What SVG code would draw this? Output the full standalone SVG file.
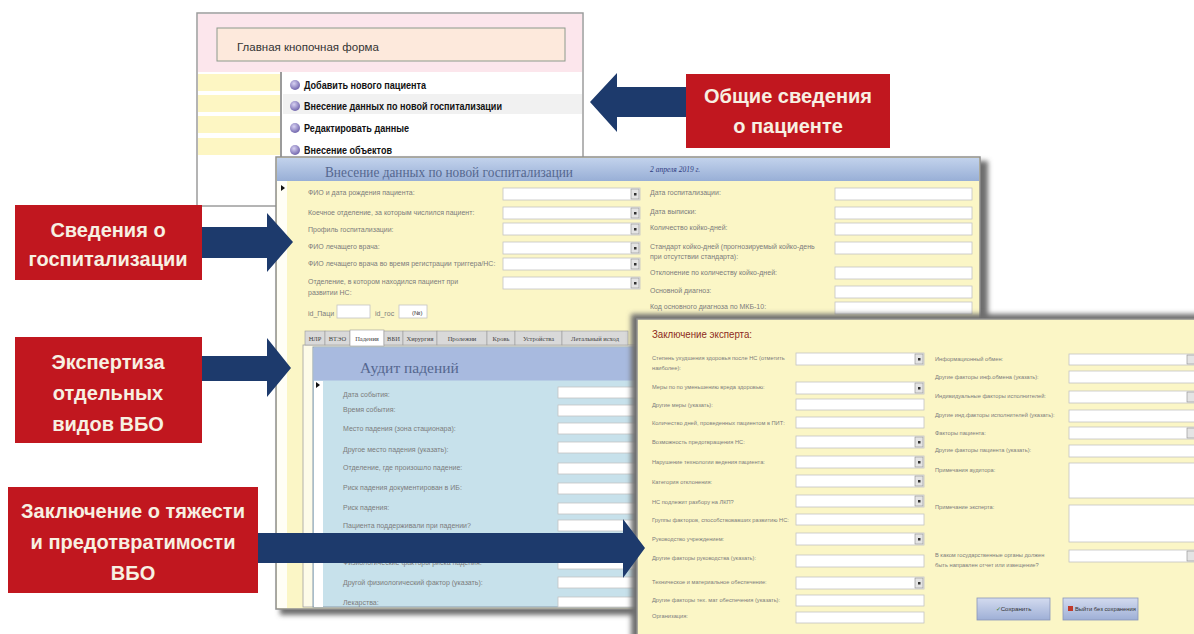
<svg xmlns="http://www.w3.org/2000/svg" width="1194" height="634" viewBox="0 0 1194 634">
<defs>
<filter id="blur" x="-5%" y="-5%" width="110%" height="110%"><feGaussianBlur stdDeviation="2.5"/></filter>
<linearGradient id="hdr" x1="0" y1="0" x2="0" y2="1"><stop offset="0" stop-color="#c2d2ec"/><stop offset="1" stop-color="#98afd6"/></linearGradient>
<linearGradient id="btn" x1="0" y1="0" x2="0" y2="1"><stop offset="0" stop-color="#d3dbef"/><stop offset="1" stop-color="#9eafd6"/></linearGradient>
<radialGradient id="bullet" cx="0.4" cy="0.35" r="0.7"><stop offset="0" stop-color="#d8d2f2"/><stop offset="1" stop-color="#6a5ea8"/></radialGradient>
<style>
.lbl{font-family:"Liberation Sans",Arial,sans-serif;font-size:7px;fill:#7c7c7c}
.lbs{font-family:"Liberation Sans",Arial,sans-serif;font-size:5.7px;fill:#7c7c7c}
.fld{fill:#ffffff;stroke:#c4c4c4;stroke-width:0.8}
.ddb{fill:#e4e4e4;stroke:#8c8c8c;stroke-width:0.6}
.ddk{fill:#333}
.menu{font-family:"Liberation Sans",Arial,sans-serif;font-size:10px;font-weight:bold;fill:#111}
.tab{fill:#d9d9d9;stroke:#9a9a9a;stroke-width:0.6}
.tabt{font-family:"Liberation Serif","Times New Roman",serif;font-size:6.5px;fill:#444;text-anchor:middle}
.call{fill:#c1171f}
.ct{font-family:"Liberation Sans",Arial,sans-serif;font-size:20px;font-weight:bold;fill:#f7f0e2;text-anchor:middle}
.arr{fill:#1d3a6c}
.win{fill:#fbf6c6;stroke:#8f8f8f;stroke-width:1.5}
.shadow{fill:#6e6e6e;filter:url(#blur)}
</style>
</defs>
<rect width="1194" height="634" fill="#ffffff"/>

<g id="main-menu-form">
<rect x="197" y="13" width="386" height="193" fill="#ffffff" stroke="#9c9c9c" stroke-width="1.5"/>
<rect x="198" y="14" width="384" height="58" fill="#fce6ec"/>
<rect x="217" y="28" width="348" height="33" fill="#fde9dc" stroke="#8c9a8c" stroke-width="1"/>
<text x="237" y="51" font-family="Liberation Sans, Arial, sans-serif" font-size="11.5" fill="#333">Главная кнопочная форма</text>
<rect x="283" y="94" width="299" height="20" fill="#f1f1f1"/>
<rect x="198" y="74" width="82" height="17" fill="#fdf6c3"/>
<rect x="198" y="95" width="82" height="17" fill="#fdf6c3"/>
<rect x="198" y="116" width="82" height="17" fill="#fdf6c3"/>
<rect x="198" y="138" width="82" height="17" fill="#fdf6c3"/>
<line x1="281" y1="72" x2="281" y2="158" stroke="#7a7a7a" stroke-width="1.5"/>
<circle cx="295" cy="85" r="5" fill="url(#bullet)"/>
<circle cx="295" cy="106" r="5" fill="url(#bullet)"/>
<circle cx="295" cy="128" r="5" fill="url(#bullet)"/>
<circle cx="295" cy="150" r="5" fill="url(#bullet)"/>
<text class="menu" x="304" y="89" textLength="122" lengthAdjust="spacingAndGlyphs">Добавить нового пациента</text>
<text class="menu" x="304" y="110" textLength="198" lengthAdjust="spacingAndGlyphs">Внесение данных по новой госпитализации</text>
<text class="menu" x="304" y="132" textLength="105" lengthAdjust="spacingAndGlyphs">Редактировать данные</text>
<text class="menu" x="304" y="154" textLength="88" lengthAdjust="spacingAndGlyphs">Внесение объектов</text>
</g>

<g id="hospitalization-form">
<rect class="shadow" x="280" y="161" width="708" height="454"/>
<rect class="win" x="276" y="157" width="704" height="452"/>
<rect x="277" y="158" width="702" height="23" fill="url(#hdr)"/>
<text x="325" y="177" font-family="Liberation Serif, Times New Roman, serif" font-size="15" fill="#55678f" textLength="248" lengthAdjust="spacingAndGlyphs">Внесение данных по новой госпитализации</text>
<text x="650" y="172" font-family="Liberation Serif, Times New Roman, serif" font-size="7.5" font-style="italic" fill="#2e3b80">2 апреля 2019 г.</text>
<rect x="277" y="181" width="10" height="427" fill="#fffef6"/>
<path d="M281 185 L285 188 L281 191 Z" fill="#111"/>
<text class="lbl" x="308" y="195">ФИО и дата рождения пациента:</text>
<text class="lbl" x="308" y="215">Коечное отделение, за которым числился пациент:</text>
<text class="lbl" x="308" y="232">Профиль госпитализации:</text>
<text class="lbl" x="308" y="249">ФИО лечащего врача:</text>
<text class="lbl" x="308" y="266">ФИО лечащего врача во время регистрации триггера/НС:</text>
<text class="lbl" x="308" y="284">Отделение, в котором находился пациент при</text>
<text class="lbl" x="308" y="295">развитии НС:</text>
<rect class="fld" x="503" y="188" width="137" height="12"/><rect class="ddb" x="631" y="189" width="8" height="10"/><rect class="ddk" x="634" y="193" width="2.5" height="2.5"/>
<rect class="fld" x="503" y="207" width="137" height="12"/><rect class="ddb" x="631" y="208" width="8" height="10"/><rect class="ddk" x="634" y="212" width="2.5" height="2.5"/>
<rect class="fld" x="503" y="223" width="137" height="12"/><rect class="ddb" x="631" y="224" width="8" height="10"/><rect class="ddk" x="634" y="228" width="2.5" height="2.5"/>
<rect class="fld" x="503" y="242" width="137" height="12"/><rect class="ddb" x="631" y="243" width="8" height="10"/><rect class="ddk" x="634" y="247" width="2.5" height="2.5"/>
<rect class="fld" x="503" y="258" width="137" height="12"/><rect class="ddb" x="631" y="259" width="8" height="10"/><rect class="ddk" x="634" y="263" width="2.5" height="2.5"/>
<rect class="fld" x="503" y="277" width="137" height="12"/><rect class="ddb" x="631" y="278" width="8" height="10"/><rect class="ddk" x="634" y="282" width="2.5" height="2.5"/>
<text class="lbl" x="308" y="316">id_Паци</text>
<rect class="fld" x="337" y="305" width="33" height="13"/>
<text class="lbl" x="375" y="316">id_гос</text>
<rect class="fld" x="399" y="305" width="28" height="13"/>
<text x="412" y="315" font-family="Liberation Sans, Arial, sans-serif" font-size="6" fill="#333">(№)</text>
<text class="lbl" x="650" y="195">Дата госпитализации:</text>
<text class="lbl" x="650" y="214">Дата выписки:</text>
<text class="lbl" x="650" y="230">Количество койко-дней:</text>
<text class="lbl" x="650" y="249">Стандарт койко-дней (прогнозируемый койко-день</text>
<text class="lbl" x="650" y="259">при отсутствии стандарта):</text>
<text class="lbl" x="650" y="275">Отклонение по количеству койко-дней:</text>
<text class="lbl" x="650" y="293">Основной диагноз:</text>
<text class="lbl" x="650" y="309">Код основного диагноза по МКБ-10:</text>
<rect class="fld" x="835" y="188" width="137" height="12"/>
<rect class="fld" x="835" y="207" width="137" height="12"/>
<rect class="fld" x="835" y="223" width="137" height="12"/>
<rect class="fld" x="835" y="242" width="137" height="12"/>
<rect class="fld" x="835" y="267" width="137" height="12"/>
<rect class="fld" x="835" y="286" width="137" height="12"/>
<rect class="fld" x="835" y="302" width="137" height="12"/>
<rect x="303" y="345" width="340" height="262" fill="#fdfbe8" stroke="#a0a0a0" stroke-width="0.8"/>
<rect class="tab" x="305" y="331" width="20" height="14"/><text class="tabt" x="315" y="341">НЛР</text>
<rect class="tab" x="325" y="331" width="25" height="14"/><text class="tabt" x="337.5" y="341">ВТЭО</text>
<rect x="350" y="330" width="34" height="16" fill="#ffffff" stroke="#9a9a9a" stroke-width="0.6"/><text class="tabt" x="367" y="341">Падения</text>
<rect class="tab" x="384" y="331" width="19" height="14"/><text class="tabt" x="393.5" y="341">ВБИ</text>
<rect class="tab" x="403" y="331" width="34" height="14"/><text class="tabt" x="420" y="341">Хирургия</text>
<rect class="tab" x="437" y="331" width="50" height="14"/><text class="tabt" x="462" y="341">Пролежни</text>
<rect class="tab" x="487" y="331" width="28" height="14"/><text class="tabt" x="501" y="341">Кровь</text>
<rect class="tab" x="515" y="331" width="47" height="14"/><text class="tabt" x="538.5" y="341">Устройства</text>
<rect class="tab" x="562" y="331" width="66" height="14"/><text class="tabt" x="595" y="341">Летальный исход</text>
<rect x="313" y="347" width="330" height="260" fill="#c7e1eb" stroke="#8a9aaa" stroke-width="1"/>
<rect x="313.5" y="347.5" width="329" height="33" fill="#a8badf"/>
<text x="360" y="373" font-family="Liberation Serif, Times New Roman, serif" font-size="15.5" fill="#55678f">Аудит падений</text>
<rect x="314" y="381" width="9" height="226" fill="#ffffff"/>
<path d="M316 382 L320 385 L316 388 Z" fill="#111"/>
<text class="lbl" x="343" y="397">Дата события:</text>
<text class="lbl" x="343" y="412">Время события:</text>
<text class="lbl" x="343" y="431">Место падения (зона стационара):</text>
<text class="lbl" x="343" y="452">Другое место падения (указать):</text>
<text class="lbl" x="343" y="470">Отделение, где произошло падение:</text>
<text class="lbl" x="343" y="490">Риск падения документирован в ИБ:</text>
<text class="lbl" x="343" y="510">Риск падения:</text>
<text class="lbl" x="343" y="528">Пациента поддерживали при падении?</text>
<text class="lbl" x="343" y="565">Физиологические факторы риска падения:</text>
<text class="lbl" x="343" y="585">Другой физиологический фактор (указать):</text>
<text class="lbl" x="343" y="605">Лекарства:</text>
<rect class="fld" x="558" y="387" width="85" height="11"/>
<rect class="fld" x="558" y="405" width="85" height="11"/>
<rect class="fld" x="558" y="423" width="85" height="11"/>
<rect class="fld" x="558" y="442" width="85" height="11"/>
<rect class="fld" x="558" y="463" width="85" height="11"/>
<rect class="fld" x="558" y="483" width="85" height="11"/>
<rect class="fld" x="558" y="503" width="85" height="11"/>
<rect class="fld" x="558" y="520" width="85" height="11"/>
<rect class="fld" x="558" y="540" width="85" height="11"/>
<rect class="fld" x="558" y="558" width="85" height="11"/>
<rect class="fld" x="558" y="577" width="85" height="11"/>
<rect class="fld" x="558" y="597" width="85" height="10"/>
</g>

<g id="expert-conclusion-form">
<rect class="shadow" x="631" y="314" width="580" height="340"/>
<rect class="win" x="637" y="319" width="570" height="330" stroke-width="2"/>
<text x="652" y="338" font-family="Liberation Sans, Arial, sans-serif" font-size="11.5" fill="#8c2a1c" textLength="100" lengthAdjust="spacingAndGlyphs">Заключение эксперта:</text>
<text class="lbs" x="652" y="360">Степень ухудшения здоровья после НС (отметить</text>
<text class="lbs" x="652" y="370">наиболее):</text>
<text class="lbs" x="652" y="389">Меры по по уменьшению вреда здоровью:</text>
<text class="lbs" x="652" y="407">Другие меры (указать):</text>
<text class="lbs" x="652" y="425">Количество дней, проведенных пациентом в ПИТ:</text>
<text class="lbs" x="652" y="444">Возможность предотвращения НС:</text>
<text class="lbs" x="652" y="464">Нарушение технологии ведения пациента:</text>
<text class="lbs" x="652" y="484">Категория отклонения:</text>
<text class="lbs" x="652" y="504">НС подлежит разбору на ЛКП?</text>
<text class="lbs" x="652" y="522">Группы факторов, способствовавших развитию НС:</text>
<text class="lbs" x="652" y="541">Руководство учреждением:</text>
<text class="lbs" x="652" y="560">Другие факторы руководства (указать):</text>
<text class="lbs" x="652" y="584">Техническое и материальное обеспечение:</text>
<text class="lbs" x="652" y="602">Другие факторы тех. мат обеспечения (указать):</text>
<text class="lbs" x="652" y="618">Организация:</text>
<rect class="fld" x="796" y="353" width="128" height="12"/><rect class="ddb" x="915" y="354" width="8" height="10"/><rect class="ddk" x="918" y="358" width="2.5" height="2.5"/>
<rect class="fld" x="796" y="382" width="128" height="12"/><rect class="ddb" x="915" y="383" width="8" height="10"/><rect class="ddk" x="918" y="387" width="2.5" height="2.5"/>
<rect class="fld" x="796" y="399" width="128" height="11"/>
<rect class="fld" x="796" y="417" width="128" height="11"/>
<rect class="fld" x="796" y="436" width="128" height="12"/><rect class="ddb" x="915" y="437" width="8" height="10"/><rect class="ddk" x="918" y="441" width="2.5" height="2.5"/>
<rect class="fld" x="796" y="456" width="128" height="12"/><rect class="ddb" x="915" y="457" width="8" height="10"/><rect class="ddk" x="918" y="461" width="2.5" height="2.5"/>
<rect class="fld" x="796" y="475" width="128" height="12"/><rect class="ddb" x="915" y="476" width="8" height="10"/><rect class="ddk" x="918" y="480" width="2.5" height="2.5"/>
<rect class="fld" x="796" y="495" width="128" height="12"/><rect class="ddb" x="915" y="496" width="8" height="10"/><rect class="ddk" x="918" y="500" width="2.5" height="2.5"/>
<rect class="fld" x="796" y="514" width="128" height="11"/>
<rect class="fld" x="796" y="533" width="128" height="12"/><rect class="ddb" x="915" y="534" width="8" height="10"/><rect class="ddk" x="918" y="538" width="2.5" height="2.5"/>
<rect class="fld" x="796" y="555" width="128" height="12"/>
<rect class="fld" x="796" y="577" width="128" height="12"/><rect class="ddb" x="915" y="578" width="8" height="10"/><rect class="ddk" x="918" y="582" width="2.5" height="2.5"/>
<rect class="fld" x="796" y="595" width="128" height="11"/>
<rect class="fld" x="796" y="612" width="128" height="11"/>
<text class="lbs" x="935" y="361">Информационный обмен:</text>
<text class="lbs" x="935" y="379">Другие факторы инф.обмена (указать):</text>
<text class="lbs" x="935" y="398">Индивидуальные факторы исполнителей:</text>
<text class="lbs" x="935" y="417">Другие инд.факторы исполнителей (указать):</text>
<text class="lbs" x="935" y="435">Факторы пациента:</text>
<text class="lbs" x="935" y="452">Другие факторы пациента (указать):</text>
<text class="lbs" x="935" y="472">Примечания аудитора:</text>
<text class="lbs" x="935" y="509">Примечание эксперта:</text>
<text class="lbs" x="935" y="557">В каком государственные органы должен</text>
<text class="lbs" x="935" y="567">быть направлен отчет или извещение?</text>
<rect class="fld" x="1069" y="354" width="130" height="11"/><rect class="ddb" x="1187" y="355" width="8" height="9"/>
<rect class="fld" x="1069" y="371" width="130" height="12"/>
<rect class="fld" x="1069" y="391" width="130" height="12"/><rect class="ddb" x="1187" y="392" width="8" height="10"/>
<rect class="fld" x="1069" y="410" width="130" height="12"/>
<rect class="fld" x="1069" y="427" width="130" height="12"/><rect class="ddb" x="1187" y="428" width="8" height="10"/>
<rect class="fld" x="1069" y="445" width="130" height="12"/>
<rect class="fld" x="1069" y="463" width="130" height="35"/>
<rect class="fld" x="1069" y="505" width="130" height="37"/>
<rect class="fld" x="1069" y="550" width="130" height="12"/><rect class="ddb" x="1187" y="551" width="8" height="10"/>
<rect x="977" y="598" width="73" height="22" fill="url(#btn)" stroke="#8a96b8" stroke-width="0.8"/>
<text x="1013.5" y="611" font-family="Liberation Sans, Arial, sans-serif" font-size="6.2" fill="#333" text-anchor="middle"><tspan fill="#3a7a2a">✓</tspan>Сохранить</text>
<rect x="1063" y="598" width="75" height="22" fill="url(#btn)" stroke="#8a96b8" stroke-width="0.8"/>
<rect x="1068" y="606" width="5" height="5" fill="#c0392b"/>
<text x="1075" y="611" font-family="Liberation Sans, Arial, sans-serif" font-size="5.8" fill="#333">Выйти без сохранения</text>
</g>

<g id="callout-general">
<rect class="call" x="686" y="74" width="204" height="74"/>
<text class="ct" x="788" y="103">Общие сведения</text>
<text class="ct" x="788" y="133">о пациенте</text>
</g>
<g id="callout-hospitalization">
<rect class="call" x="15" y="205" width="187" height="75"/>
<text class="ct" x="108" y="237">Сведения о</text>
<text class="ct" x="108" y="266">госпитализации</text>
</g>
<g id="callout-expertise">
<rect class="call" x="15" y="337" width="187" height="106"/>
<text class="ct" x="108" y="369">Экспертиза</text>
<text class="ct" x="108" y="400">отдельных</text>
<text class="ct" x="108" y="431">видов ВБО</text>
</g>
<g id="callout-conclusion">
<rect class="call" x="8" y="487" width="250" height="106"/>
<text class="ct" x="133" y="518">Заключение о тяжести</text>
<text class="ct" x="133" y="549">и предотвратимости</text>
<text class="ct" x="133" y="580">ВБО</text>
</g>

<g id="connectors">
<polygon class="arr" points="686,87 617,87 617,73 590,102 617,132 617,117 686,117"/>
<polygon class="arr" points="202,227 267,227 267,213 293,242 267,272 267,258 202,258"/>
<polygon class="arr" points="202,356 267,356 267,338 291,368 267,397 267,381 202,381"/>
<polygon class="arr" points="258,533 623,533 623,519 645,548 623,578 623,563 258,563"/>
</g>
</svg>
